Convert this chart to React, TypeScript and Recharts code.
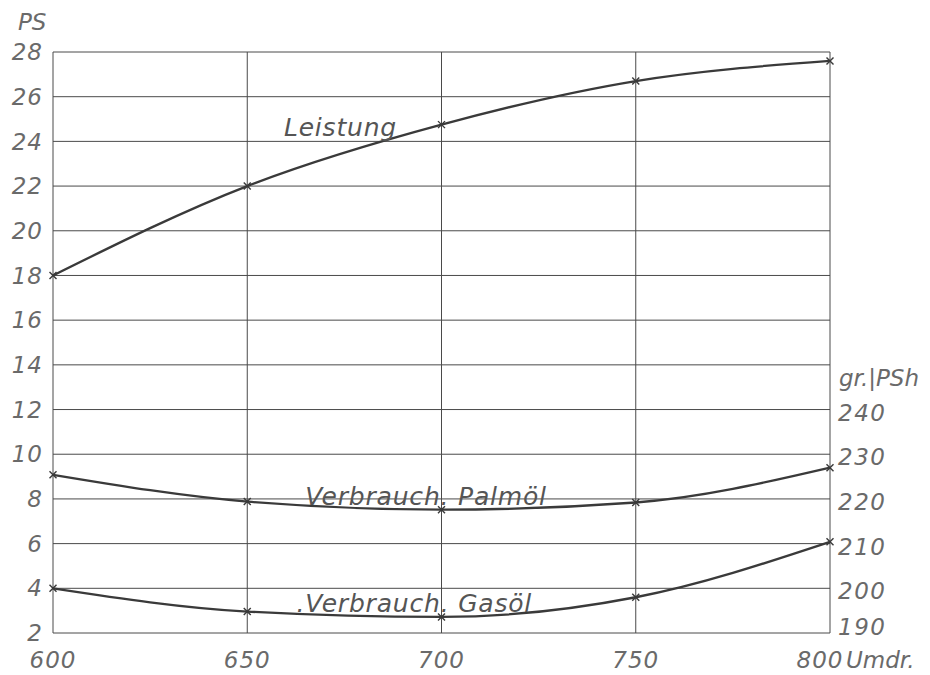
import {
  LineChart,
  Line,
  XAxis,
  YAxis,
  CartesianGrid,
  ReferenceDot,
} from "recharts";

// engine speed (Umdr.)
const speeds = [600, 650, 700, 750, 800];
// power, PS (left axis)
const leistung = [18.0, 22.0, 24.75, 26.7, 27.6];
// consumption, gr/PSh (right axis)
const palmoel = [225.4, 219.4, 217.6, 219.2, 227.0];
const gasoel = [200.0, 194.8, 193.6, 198.0, 210.4];

const leftTicks = [2, 4, 6, 8, 10, 12, 14, 16, 18, 20, 22, 24, 26, 28];
const rightTicks = [190, 200, 210, 220, 230, 240];

const data = speeds.map((s, i) => ({
  speed: s,
  leistung: leistung[i],
  palmoel: palmoel[i],
  gasoel: gasoel[i],
}));

const ink = "#3a3a3a";
const labelInk = "#6a6a6a";
const font = "'DejaVu Sans', sans-serif";

function Cross(props: any) {
  const {cx, cy} = props;
  if (cx == null || cy == null) return null;
  const s = 3.5;
  return (
    <g stroke={ink} strokeWidth={1.4}>
      <line x1={cx - s} y1={cy - s} x2={cx + s} y2={cy + s} />
      <line x1={cx - s} y1={cy + s} x2={cx + s} y2={cy - s} />
    </g>
  );
}

function XTick(props: any) {
  const {x, y, payload} = props;
  return (
    <g>
      <text
        x={payload.value == 800 ? x - 10 : x}
        y={y + 27}
        textAnchor="middle"
        fontSize={23}
        fontStyle="italic"
        fontFamily={font}
        letterSpacing={1}
        fill={labelInk}
      >
        {payload.value}
      </text>
      {payload.value == 800 && (
        <text
          x={x + 16}
          y={y + 27}
          textAnchor="start"
          fontSize={23}
          fontStyle="italic"
          fontFamily={font}
          fill={labelInk}
        >
          Umdr.
        </text>
      )}
    </g>
  );
}

function RightTick(props: any) {
  const {x, y, payload} = props;
  // lowest label is lifted a little, as in the drawing
  const shift = payload.value == 190 ? -6 : 3;
  return (
    <text
      x={x}
      y={y + shift}
      dominantBaseline="central"
      textAnchor="start"
      fontSize={23}
      fontStyle="italic"
      fontFamily={font}
      letterSpacing={1.5}
      fill={labelInk}
    >
      {payload.value}
    </text>
  );
}

function CurveLabel(text: string) {
  return (props: any) => {
    const {viewBox} = props;
    const cx = viewBox.x + (viewBox.width || 0) / 2;
    const cy = viewBox.y + (viewBox.height || 0) / 2;
    return (
      <text
        x={cx}
        y={cy}
        textAnchor="middle"
        dominantBaseline="central"
        fontSize={25}
        letterSpacing={0.8}
        fontStyle="italic"
        fontFamily={font}
        fill="#555"
      >
        {text}
      </text>
    );
  };
}

export default function App() {
  return (
    <div style={{position: "absolute", left: 0, top: 0, background: "#fff"}}>
      <LineChart
        width={930}
        height={675}
        data={data}
        margin={{top: 52, right: 0, bottom: 0, left: 0}}
      >
        <CartesianGrid
          yAxisId="ps"
          stroke="#4a4a4a"
          strokeWidth={1}
          verticalValues={speeds}
          horizontalValues={leftTicks}
        />
        <XAxis
          dataKey="speed"
          type="number"
          domain={[600, 800]}
          ticks={speeds}
          axisLine={false}
          tickLine={false}
          height={42}
          tick={<XTick />}
          interval={0}
        />
        <YAxis
          yAxisId="ps"
          domain={[2, 28]}
          ticks={leftTicks}
          width={53}
          axisLine={false}
          tickLine={false}
          interval={0}
          tick={{
            fontSize: 23,
            fontStyle: "italic",
            fontFamily: font,
            fill: labelInk,
            letterSpacing: 1,
            dx: -2,
          }}
          label={{
            value: "PS",
            position: "insideTopLeft",
            offset: 0,
            dx: 18,
            dy: -38,
            style: {
              fontSize: 23,
              fontStyle: "italic",
              fontFamily: font,
              fill: labelInk,
            },
          }}
        />
        <YAxis
          yAxisId="gr"
          orientation="right"
          domain={[190, 320]}
          ticks={rightTicks}
          width={100}
          axisLine={false}
          tickLine={false}
          interval={0}
          tick={<RightTick />}
        />
        <ReferenceDot
          yAxisId="gr"
          x={800}
          y={247}
          r={0}
          label={(p: any) => (
            <text
              x={p.viewBox.x + 9}
              y={p.viewBox.y + 8}
              fontSize={23}
              fontStyle="italic"
              fontFamily={font}
              fill={labelInk}
            >
              gr.|PSh
            </text>
          )}
        />
        <Line
          yAxisId="ps"
          dataKey="leistung"
          type="monotone"
          stroke={ink}
          strokeWidth={2.3}
          dot={<Cross />}
          isAnimationActive={false}
        />
        <Line
          yAxisId="gr"
          dataKey="palmoel"
          type="monotone"
          stroke={ink}
          strokeWidth={2.3}
          dot={<Cross />}
          isAnimationActive={false}
        />
        <Line
          yAxisId="gr"
          dataKey="gasoel"
          type="monotone"
          stroke={ink}
          strokeWidth={2.3}
          dot={<Cross />}
          isAnimationActive={false}
        />
        <ReferenceDot
          yAxisId="ps"
          x={674}
          y={24.6}
          r={0}
          label={CurveLabel("Leistung")}
        />
        <ReferenceDot
          yAxisId="gr"
          x={696}
          y={220.6}
          r={0}
          label={CurveLabel("Verbrauch. Palmöl")}
        />
        <ReferenceDot
          yAxisId="gr"
          x={693}
          y={196.6}
          r={0}
          label={CurveLabel(".Verbrauch. Gasöl")}
        />
      </LineChart>
    </div>
  );
}
